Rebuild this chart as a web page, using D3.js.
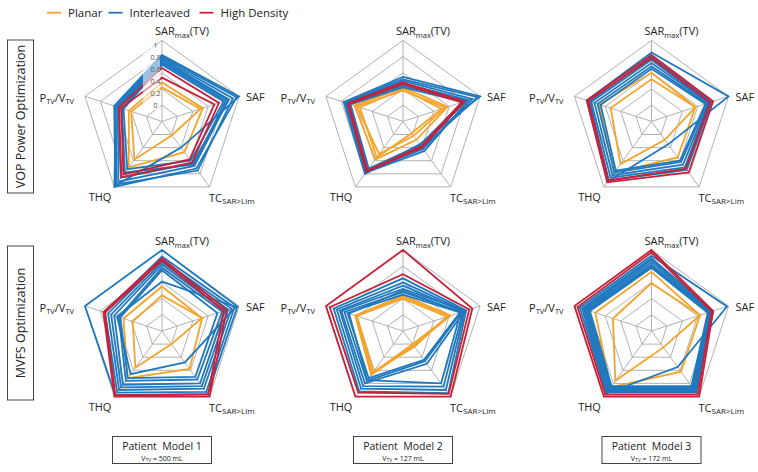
<!DOCTYPE html>
<html><head><meta charset="utf-8">
<script src="https://cdn.jsdelivr.net/npm/d3@7"></script>
<style>
html,body{margin:0;padding:0;background:#fff;}
svg{display:block;font-family:"Open Sans","Noto Sans",sans-serif;}
</style></head>
<body><svg id="chart" width="758" height="472"></svg>
<script>
// ---------- data ----------
const axisNames = ["SARmax(TV)", "SAF", "TCSAR>Lim", "THQ", "PTV/VTV"];
const seriesNames = ["Planar", "Interleaved", "High Density"];
const rowLabels = ["VOP Power Optimization", "MVFS Optimization"];
const patientNames = ["Patient  Model 1", "Patient  Model 2", "Patient  Model 3"];
const patientVolumes = ["500 mL", "127 mL", "172 mL"];
const tickValues = [0, 0.2, 0.4, 0.6, 0.8, 1];

// values: [SARmax(TV), SAF, TC, THQ, PTV/VTV]
const vopM1Planar = [[0.42,0.50,0.21,0.58,0.40],[0.48,0.53,0.47,0.70,0.43]];
const vopM1Interleaved = [[0.82,1.00,0.40,0.98,0.62],[0.80,0.97,0.72,1.00,0.60],[0.78,0.92,0.75,0.96,0.58],
  [0.76,0.87,0.64,0.86,0.57],[0.74,0.86,0.68,0.92,0.55],[0.72,0.83,0.66,0.78,0.52],[0.70,0.80,0.60,0.73,0.50]];
const vopM1HighDensity = [[0.66,0.74,0.63,0.85,0.56],[0.54,0.68,0.58,0.81,0.53]];

const vopM2Planar = [[0.38,0.55,0.22,0.50,0.60],[0.40,0.50,0.18,0.55,0.56],[0.42,0.58,0.28,0.58,0.63]];
const vopM2Interleaved = [[0.55,1.00,0.35,0.80,0.77],[0.52,0.97,0.40,0.78,0.75],[0.50,0.90,0.42,0.76,0.74],
  [0.47,0.85,0.45,0.78,0.72],[0.44,0.82,0.38,0.74,0.70],[0.42,0.78,0.36,0.72,0.68]];
const vopM2HighDensity = [[0.48,0.80,0.40,0.77,0.72],[0.46,0.76,0.38,0.75,0.70]];

const vopM3Planar = [[0.52,0.57,0.28,0.65,0.53],[0.60,0.57,0.55,0.78,0.68]];
const vopM3Interleaved = [[0.85,1.00,0.35,0.92,0.84],[0.80,0.78,0.74,0.90,0.80],[0.76,0.75,0.70,0.86,0.78],
  [0.72,0.74,0.66,0.82,0.74],[0.68,0.72,0.62,0.78,0.70],[0.65,0.70,0.60,0.75,0.66]];
const vopM3HighDensity = [[0.82,0.80,0.78,0.93,0.84],[0.78,0.76,0.72,0.90,0.82]];

const mvfsM1Planar = [[0.44,0.52,0.20,0.56,0.38],[0.55,0.52,0.58,0.72,0.50]];
const mvfsM1Interleaved = [[1.00,0.98,0.96,0.98,1.00],[0.92,0.94,0.93,0.94,0.74],[0.88,0.90,0.88,0.90,0.70],
  [0.85,0.86,0.84,0.86,0.66],[0.82,0.82,0.80,0.82,0.62],[0.61,0.96,0.48,0.66,0.58],[0.78,0.78,0.74,0.76,0.56],
  [0.75,0.72,0.70,0.72,0.54]];
const mvfsM1HighDensity = [[0.90,0.84,1.00,1.00,0.76],[0.87,0.80,0.97,0.98,0.74]];

const mvfsM2Planar = [[0.42,0.60,0.20,0.65,0.60],[0.40,0.57,0.24,0.62,0.60],[0.44,0.62,0.22,0.67,0.62]];
const mvfsM2Interleaved = [[0.65,0.82,0.95,0.92,0.90],[0.60,0.80,0.90,0.88,0.86],[0.56,0.78,0.85,0.84,0.82],
  [0.52,0.80,0.50,0.80,0.80],[0.48,0.76,0.46,0.76,0.76],[0.45,0.74,0.44,0.72,0.72],[0.50,0.75,0.80,0.75,0.70]];
const mvfsM2HighDensity = [[1.00,0.90,1.00,1.00,1.00],[0.70,0.86,0.96,0.94,0.95]];

const mvfsM3Planar = [[0.59,0.63,0.25,0.76,0.50],[0.73,0.63,0.62,0.86,0.73]];
const mvfsM3Interleaved = [[0.93,0.98,0.55,0.95,0.93],[0.90,0.80,0.94,0.94,0.90],[0.88,0.78,0.92,0.92,0.88],
  [0.85,0.77,0.90,0.90,0.86],[0.82,0.76,0.88,0.88,0.84],[0.80,0.74,0.86,0.86,0.82],[0.78,0.73,0.84,0.84,0.80]];
const mvfsM3HighDensity = [[1.00,0.80,1.00,1.00,1.00],[0.97,0.78,0.97,0.97,0.96]];

// ---------- layout ----------
const colors = {"Planar":"#F5A42A","Interleaved":"#1F78BE","High Density":"#C62139"};
const colCenters = [162, 403, 651.5];
const rowCenters = [121.4, 331];
const R = 81;

const panels = [
  {row:0,col:0,sets:[vopM1Planar,vopM1Interleaved,vopM1HighDensity]},
  {row:0,col:1,sets:[vopM2Planar,vopM2Interleaved,vopM2HighDensity]},
  {row:0,col:2,sets:[vopM3Planar,vopM3Interleaved,vopM3HighDensity]},
  {row:1,col:0,sets:[mvfsM1Planar,mvfsM1Interleaved,mvfsM1HighDensity]},
  {row:1,col:1,sets:[mvfsM2Planar,mvfsM2Interleaved,mvfsM2HighDensity]},
  {row:1,col:2,sets:[mvfsM3Planar,mvfsM3Interleaved,mvfsM3HighDensity]}
];

const svg = d3.select("#chart");
const rScale = d3.scaleLinear().domain([0,1]).range([0,R]);
const aScale = d3.scaleLinear().domain([0,axisNames.length]).range([0,2*Math.PI]);
const radial = d3.lineRadial().angle((d,i)=>aScale(i)).radius(d=>rScale(d)).curve(d3.curveLinearClosed);
const gridLevels = [0.2,0.4,0.6,0.8,1];

function addAxisLabel(g, i) {
  let t;
  if (i === 0) {
    t = g.append("text").attr("x", -7).attr("y", -86);
    t.append("tspan").text("SAR");
    t.append("tspan").attr("font-size",7.5).attr("dy",2.5).text("max");
    t.append("tspan").attr("dy",-2.5).text("(TV)");
  } else if (i === 1) {
    t = g.append("text").attr("x", 84).attr("y", -20.5).text("SAF");
  } else if (i === 2) {
    t = g.append("text").attr("x", 47).attr("y", 80.5);
    t.append("tspan").text("TC");
    t.append("tspan").attr("font-size",8).attr("dy",2.5).text("SAR>Lim");
  } else if (i === 3) {
    t = g.append("text").attr("x", -62).attr("y", 79.5).attr("text-anchor","middle").text("THQ");
  } else {
    t = g.append("text").attr("x", -88).attr("y", -19.5).attr("text-anchor","end");
    t.append("tspan").text("P");
    t.append("tspan").attr("font-size",7.5).attr("dy",2.5).text("TV");
    t.append("tspan").attr("dy",-2.5).text("/V");
    t.append("tspan").attr("font-size",7.5).attr("dy",2.5).text("TV");
  }
  t.attr("font-size", 11).attr("fill", "#222");
}

panels.forEach((p, pi) => {
  const g = svg.append("g").attr("transform", `translate(${colCenters[p.col]},${rowCenters[p.row]})`);
  // grid rings
  gridLevels.forEach(l => {
    g.append("path").attr("d", radial(axisNames.map(()=>l)))
      .attr("fill","none").attr("stroke","#A8A8A8").attr("stroke-width",0.9);
  });
  // spokes
  axisNames.forEach((a,i) => {
    const ang = aScale(i) - Math.PI/2;
    g.append("line").attr("x1",0).attr("y1",0)
      .attr("x2", rScale(1)*Math.cos(ang)).attr("y2", rScale(1)*Math.sin(ang))
      .attr("stroke","#A8A8A8").attr("stroke-width",0.9);
  });
  // series
  p.sets.forEach((set, si) => {
    set.forEach(vals => {
      g.append("path").attr("d", radial(vals)).attr("fill","none")
        .attr("stroke", colors[seriesNames[si]]).attr("stroke-width", 1.8)
        .attr("stroke-linejoin","miter");
    });
  });
  axisNames.forEach((a,i) => addAxisLabel(g, i));
  if (pi === 0) {
    g.append("rect").attr("x",-19).attr("y",-75).attr("width",17).attr("height",64)
      .attr("fill","#fff").attr("opacity",0.55);
    const tickPos = d3.scaleLinear().domain([0,1]).range([15.5, 76]);
    tickValues.forEach(v => {
      g.append("text").attr("x",-6.5).attr("y",-tickPos(v)+2.5).attr("text-anchor","middle")
        .attr("font-size",7).attr("fill","#555").text(v);
    });
  }
});

// legend
const legX = [47, 108.5, 199.5];
seriesNames.forEach((s,i) => {
  svg.append("line").attr("x1",legX[i]).attr("x2",legX[i]+14).attr("y1",12.7).attr("y2",12.7)
    .attr("stroke",colors[s]).attr("stroke-width",1.8);
  svg.append("text").attr("x",legX[i]+21).attr("y",16.8).attr("font-size",11.5).attr("fill","#222").text(s);
});

// row labels
const rowBoxes = [{y:40,h:153},{y:246,h:154}];
rowLabels.forEach((l,i) => {
  const b = rowBoxes[i];
  svg.append("rect").attr("x",7.5).attr("y",b.y).attr("width",26).attr("height",b.h)
    .attr("fill","#fff").attr("stroke","#444").attr("stroke-width",1);
  svg.append("text").attr("transform",`translate(${20.5+4.5},${b.y+b.h/2}) rotate(-90)`)
    .attr("text-anchor","middle").attr("font-size",12.5).attr("fill","#222").text(l);
});

// patient boxes
patientNames.forEach((n,i) => {
  const cx = colCenters[i];
  svg.append("rect").attr("x",cx-49.5).attr("y",436.5).attr("width",99).attr("height",27)
    .attr("fill","#fff").attr("stroke","#444").attr("stroke-width",1);
  svg.append("text").attr("x",cx).attr("y",450).attr("text-anchor","middle")
    .attr("font-size",10.5).attr("fill","#222").attr("xml:space","preserve").style("white-space","pre").text(n);
  const t = svg.append("text").attr("x",cx).attr("y",460.5).attr("text-anchor","middle")
    .attr("font-size",7).attr("fill","#222");
  t.append("tspan").text("V");
  t.append("tspan").attr("font-size",5).attr("dy",1.5).text("TV");
  t.append("tspan").attr("dy",-1.5).text(" = " + patientVolumes[i]);
});
</script></body></html>
